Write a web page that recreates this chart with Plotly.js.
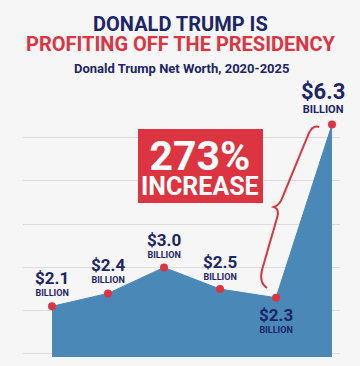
<!DOCTYPE html>
<html>
<head>
<meta charset="utf-8">
<script src="https://cdn.plot.ly/plotly-3.0.1.min.js"></script>
<style>html,body{margin:0;padding:0;background:#f6f6f6;}</style>
</head>
<body>
<div id="chart" style="width:360px;height:366px;"></div>
<script>
// ---- data ----
const years = [2020, 2021, 2022, 2023, 2024, 2025];
const netWorth = [2.1, 2.4, 3.0, 2.5, 2.3, 6.3];
const valueLabels = ["$2.1", "$2.4", "$3.0", "$2.5", "$2.3", "$6.3"];
const unitLabel = "BILLION";
const increaseText = ["273%", "INCREASE"];

// ---- layout geometry (pixels) ----
const W = 360, H = 366;
const L = 23, R = 340, T = 90, B = 357;
const px2x = p => (p - L) / (R - L);       // pixel -> paper x
const px2y = p => (B - p) / (B - T);       // pixel -> paper y

const NAVY = "#1c2566", RED = "#dc3440", BLUE = "#4a88b8";
const FONT = "Roboto, 'Open Sans', sans-serif";

// label block placement relative to each point (px) and sizes
const labelDy  = [-23, -23, -22, -22, 22, -27];
const bigSize  = [17, 17, 17, 17, 17, 22];
const unitSize = [9, 9, 9, 9, 9, 11];
const labelDx  = [0, 0, 0, 0, 0, -9];

const trace = {
  x: years, y: netWorth, type: "scatter", mode: "lines+markers",
  fill: "tozeroy", fillcolor: BLUE,
  line: {color: BLUE, width: 1},
  marker: {color: RED, size: 8},
  hoverinfo: "skip", showlegend: false
};

const span = (txt, size, color) =>
  "<span style='font-size:" + size + "px" + (color ? ";color:" + color : "") + "'><b>" + txt + "</b></span>";

const annotations = [
  {text: span("DONALD TRUMP IS", 20, NAVY) + "<br>" + span("PROFITING OFF THE PRESIDENCY", 20, RED),
   x: 180, y: 34, size: 15.5, color: NAVY},
  {text: "<b>Donald Trump Net Worth, 2020-2025</b>", x: 181, y: 68, size: 13, color: NAVY},
  {text: span(increaseText[0], 41) + "<br>" + span(increaseText[1], 25), x: 200, y: 166, size: 19, color: "#ffffff"}
].map(a => ({
  text: a.text, xref: "paper", yref: "paper", x: px2x(a.x), y: px2y(a.y),
  xanchor: "center", yanchor: "middle", showarrow: false,
  font: {family: FONT, size: a.size, color: a.color}
}));

years.forEach((yr, i) => {
  annotations.push({
    x: yr, y: netWorth[i], xref: "x", yref: "y", showarrow: false,
    yshift: -labelDy[i], xshift: labelDx[i],
    text: span(valueLabels[i], bigSize[i]) + "<br><b>" + unitLabel + "</b>",
    xanchor: "center", yanchor: "middle",
    font: {family: FONT, size: unitSize[i], color: NAVY}
  });
});

const P = (x, y) => px2x(x).toFixed(4) + "," + px2y(y).toFixed(4);
const bracePath = "M" + P(319,127) + " Q" + P(313,125) + " " + P(309,133) +
  " L" + P(283,196) + " Q" + P(280,205) + " " + P(274,207) +
  " Q" + P(280,209) + " " + P(277,218) +
  " L" + P(262,270) + " Q" + P(259,283) + " " + P(267,288);

const shapes = [
  {type: "rect", xref: "paper", yref: "paper", x0: px2x(138), x1: px2x(263), y0: px2y(203), y1: px2y(129),
   fillcolor: RED, line: {width: 0}, layer: "above"},
  {type: "path", xref: "paper", yref: "paper", path: bracePath, line: {color: RED, width: 2}, layer: "above"}
];

const layout = {
  width: W, height: H,
  margin: {l: L, r: W - R, t: T, b: H - B, pad: 0},
  paper_bgcolor: "#f6f6f6", plot_bgcolor: "#f6f6f6",
  xaxis: {range: [2019.482, 2025.143], showgrid: false, zeroline: false, showticklabels: false, showline: false, ticks: ""},
  yaxis: {range: [0.93, 7.10], tickvals: [1, 2, 3, 4, 5, 6], showgrid: true, gridcolor: "#dcdcdc", gridwidth: 1,
          zeroline: false, showticklabels: false, showline: false, ticks: ""},
  annotations: annotations, shapes: shapes
};

Plotly.newPlot("chart", [trace], layout, {staticPlot: true, displayModeBar: false});
</script>
</body>
</html>
